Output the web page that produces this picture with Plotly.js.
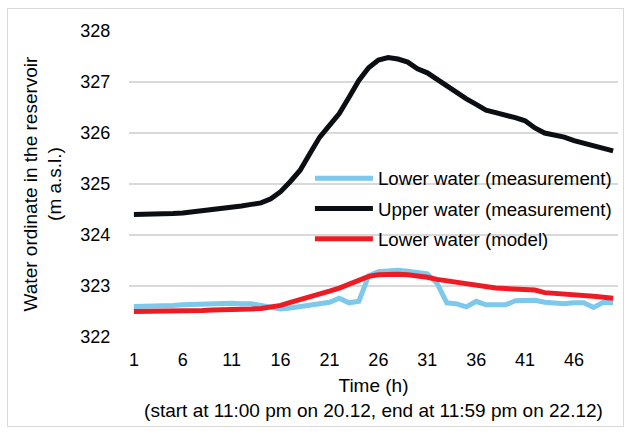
<!DOCTYPE html>
<html>
<head>
<meta charset="utf-8">
<script src="https://cdn.plot.ly/plotly-3.0.1.min.js"></script>
<style>
  html, body { margin: 0; padding: 0; background: #ffffff; }
  #wrap { position: relative; width: 633px; height: 435px; }
  #chart { position: absolute; left: 0; top: 0; width: 633px; height: 435px; }
  #frame { position: absolute; left: 7px; top: 8px; width: 617px; height: 419px; border: 1px solid #d9d9d9; pointer-events: none; box-sizing: border-box; }
</style>
</head>
<body>
<div id="wrap">
  <div id="chart"></div>
  <div id="frame"></div>
</div>
<script>
// Hours 1..50
const hours = [];
for (let i = 1; i <= 50; i++) hours.push(i);

const lowerMeasured = [
  322.60, 322.60, 322.61, 322.62, 322.62, 322.63, 322.64, 322.65, 322.65, 322.65,
  322.66, 322.65, 322.65, 322.62, 322.58, 322.55, 322.57, 322.60, 322.63, 322.66,
  322.68, 322.76, 322.67, 322.70, 323.20, 323.28, 323.30, 323.31, 323.29, 323.27,
  323.24, 323.05, 322.67, 322.65, 322.59, 322.70, 322.63, 322.63, 322.63, 322.71,
  322.72, 322.72, 322.68, 322.66, 322.65, 322.67, 322.67, 322.58, 322.68, 322.67
];

const upperMeasured = [
  324.40, 324.40, 324.41, 324.41, 324.42, 324.43, 324.45, 324.47, 324.50, 324.52,
  324.55, 324.57, 324.60, 324.63, 324.71, 324.85, 325.05, 325.27, 325.60, 325.92,
  326.15, 326.38, 326.70, 327.03, 327.28, 327.43, 327.48, 327.45, 327.39, 327.26,
  327.18, 327.05, 326.94, 326.80, 326.67, 326.56, 326.45, 326.40, 326.36, 326.30,
  326.24, 326.10, 326.00, 325.96, 325.92, 325.85, 325.80, 325.75, 325.70, 325.65
];

const lowerModel = [
  322.50, 322.50, 322.50, 322.51, 322.51, 322.51, 322.51, 322.52, 322.53, 322.53,
  322.54, 322.55, 322.55, 322.56, 322.58, 322.62, 322.68, 322.73, 322.78, 322.84,
  322.90, 322.96, 323.04, 323.12, 323.19, 323.22, 323.23, 323.23, 323.22, 323.20,
  323.17, 323.13, 323.10, 323.07, 323.03, 323.00, 322.98, 322.96, 322.95, 322.94,
  322.93, 322.92, 322.87, 322.86, 322.85, 322.83, 322.81, 322.80, 322.78, 322.76
];

const xTickVals = [1, 6, 11, 16, 21, 26, 31, 36, 41, 46];
const yTickVals = [322, 323, 324, 325, 326, 327, 328];

const seriesNames = ["Lower water (measurement)", "Upper water (measurement)", "Lower water (model)"];
const seriesColors = ["#7dc8eb", "#0b0e13", "#ed1c24"];
const seriesData = [lowerMeasured, upperMeasured, lowerModel];

const traces = seriesData.map((ys, i) => ({
  x: hours,
  y: ys,
  type: "scatter",
  mode: "lines",
  name: seriesNames[i],
  legendgroup: "g" + i,
  line: { color: seriesColors[i], width: 5, shape: "linear" },
  hoverinfo: "x+y+name"
}));

const font = "Liberation Sans, Arial, sans-serif";
const fs = 18;
const fsTitle = 19;
const fsLegend = 18.7;

const layout = {
  width: 633,
  height: 435,
  margin: { l: 129, r: 15, t: 31, b: 98, pad: 0 },
  paper_bgcolor: "rgba(0,0,0,0)",
  plot_bgcolor: "#ffffff",
  font: { family: font, size: fs, color: "#000000" },
  showlegend: true,
  legend: {
    x: 0.37, xanchor: "left",
    y: 0.58, yanchor: "top",
    bgcolor: "rgba(0,0,0,0)",
    font: { family: font, size: fsLegend, color: "#000000" },
    itemwidth: 58,
    traceorder: "grouped",
    tracegroupgap: 3
  },
  xaxis: {
    range: [0.5, 50.5],
    tickmode: "array",
    tickvals: xTickVals,
    ticktext: xTickVals.map(String),
    showgrid: false,
    zeroline: false,
    showline: false,
    ticks: "outside",
    ticklen: 6,
    tickcolor: "rgba(0,0,0,0)",
    tickfont: { family: font, size: fs, color: "#000000" },
    title: {
      text: "Time (h)<br>(start at 11:00 pm on 20.12, end at 11:59 pm on 22.12)",
      font: { family: font, size: fsTitle, color: "#000000" },
      standoff: 10
    }
  },
  yaxis: {
    range: [322, 328],
    tickmode: "array",
    tickvals: yTickVals,
    ticktext: yTickVals.map(String),
    showgrid: true,
    gridcolor: "#d9d9d9",
    gridwidth: 1.3,
    zeroline: false,
    showline: false,
    ticks: "outside",
    ticklen: 14,
    tickcolor: "rgba(0,0,0,0)",
    tickfont: { family: font, size: fs, color: "#000000" },
    title: {
      text: "Water ordinate in the reservoir<br>(m a.s.l.)",
      font: { family: font, size: fsTitle, color: "#000000" },
      standoff: 13
    }
  }
};

Plotly.newPlot("chart", traces, layout, { displayModeBar: false, staticPlot: true });
</script>
</body>
</html>
